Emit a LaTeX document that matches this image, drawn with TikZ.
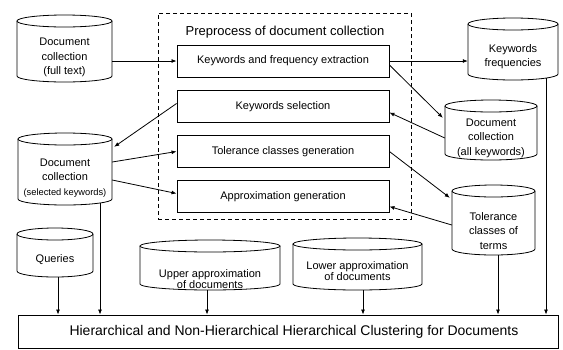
\documentclass[tikz,border=0pt]{standalone}
\usepackage{fontspec}
\setmainfont{Liberation Sans}
\usetikzlibrary{arrows.meta,calc}
\tikzset{
  ln/.style={line width=0.8pt},
  arr/.style={ln,-{Latex[length=5pt,width=4pt]}},
  procbox/.style={draw,line width=0.9pt,minimum width=212pt,minimum height=32pt,inner sep=0pt,font=\fontsize{11}{13}\selectfont},
  cylarea/.style={inner sep=0pt,draw=none},
  cyltext/.style={align=center,inner sep=0pt,font=\fontsize{11}{14.5}\selectfont},
}
\newcommand\mycyl[7]{%
  \node[cylarea,minimum width=#4pt,minimum height=#5pt] (#1) at (#2,#3) {};
  \draw[ln] (#2,#3+#5/2-6) ellipse [x radius=#4/2, y radius=6];
  \draw[ln] (#2-#4/2,#3+#5/2-6) -- (#2-#4/2,#3-#5/2+6)
     arc [start angle=180,end angle=360,x radius=#4/2,y radius=6] -- (#2+#4/2,#3+#5/2-6);
  \node[cyltext] (#1-t) at (#2,#3-#6) {#7};
}
\begin{document}
\begin{tikzpicture}[x=1pt,y=1pt]
\useasboundingbox (0,0) rectangle (563,-349);

% dashed preprocess frame
\node[draw,dashed,dash pattern=on 4pt off 3pt,line width=0.8pt,minimum width=253pt,minimum height=206pt,inner sep=0pt] (pre) at (284.5,-116) {};
\node[font=\fontsize{13}{15}\selectfont] (title) at (285,-32) {Preprocess of document collection};

% process boxes
\node[procbox] (b1) at (283,-61) {Keywords and frequency extraction};
\node[procbox] (b2) at (283,-106.5) {Keywords selection};
\node[procbox] (b3) at (283,-151.5) {Tolerance classes generation};
\node[procbox] (b4) at (283,-196.5) {Approximation generation};

% cylinders
\mycyl{c1}{64.5}{-48.5}{95}{67}{9}{Document\\collection\\(full text)}
\mycyl{kf}{513}{-49}{90}{62}{7.5}{Keywords\\frequencies}
\mycyl{call}{491}{-130}{92}{60}{8}{Document\\collection\\(all keywords)}
\mycyl{sel}{65}{-169}{94}{72}{9}{Document\\collection\\{\fontsize{9.3}{12}\selectfont(selected keywords)}}
\mycyl{tol}{493.5}{-220}{83}{70}{11}{Tolerance\\classes of\\terms}
\mycyl{q}{55}{-252.5}{76}{49}{7.5}{Queries}
\begin{scope}[cyltext/.append style={font=\fontsize{11}{10.5}\selectfont}]
\mycyl{up}{210}{-265}{140}{50}{14}{Upper approximation\\of documents}
\mycyl{lo}{357.5}{-264}{129}{52}{7}{Lower approximation\\of documents}
\end{scope}

% final box
\node[draw,line width=0.9pt,minimum width=540pt,minimum height=33pt,inner sep=0pt,font=\fontsize{14}{16}\selectfont] (fin) at (288,-331.5) {\hspace*{12pt}Hierarchical and Non-Hierarchical Hierarchical Clustering for Documents};

% connectors
\draw[arr] (c1.east |- b1.west) -- (b1.west);
\draw[arr] (b1.east) -- (kf.west |- b1.east);
\draw[arr] ($(b1.east)+(0,-4)$) -- ($(call.north west)+(-2,-18)$);
\draw[arr] ($(call.west)+(0,-8)$) -- ($(b2.east)+(0,-6)$);
\draw[arr] ($(b2.west)+(0,3)$) -- ($(sel.north east)+(2,-14)$);
\draw[arr] ($(sel.east)+(0,7)$) -- (b3.west);
\draw[arr] ($(sel.east)+(0,-11)$) -- ($(b4.west)+(0,3)$);
\draw[arr] (b3.east) -- ($(tol.north west)+(-2,-13)$);
\draw[arr] ($(tol.west)+(0,-5)$) -- ($(b4.east)+(0,-10)$);

\coordinate (kfb) at ($(kf.south)+(33,2)$);
\coordinate (selb) at ($(sel.south)+(35,2)$);
\coordinate (tolb) at ($(tol.south)+(4.5,0)$);
\coordinate (qb) at ($(q.south)+(3,0)$);
\coordinate (upb) at ($(up.south)+(-3,0)$);
\coordinate (lob) at ($(lo.south)+(5.5,0)$);
\foreach \c in {kfb,selb,tolb,qb,upb,lob}
  \draw[arr] (\c) -- (\c |- fin.north);
\end{tikzpicture}
\end{document}
